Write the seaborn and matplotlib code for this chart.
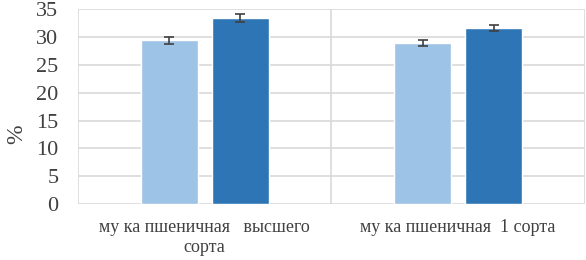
import matplotlib
matplotlib.use('Agg')
import matplotlib.pyplot as plt
import seaborn as sns
import pandas as pd

# data
categories = ['му ка пшеничная   высшего\nсорта', 'му ка пшеничная  1 сорта']
series = ['контроль', 'опыт']
values_light = [29.4, 28.9]
values_dark = [33.4, 31.6]
err_light = [0.6, 0.6]
err_dark = [0.7, 0.6]
yticks = [0, 5, 10, 15, 20, 25, 30, 35]

COLORS = ['#9DC3E6', '#2E75B6']

df = pd.DataFrame({
    'category': categories * 2,
    'series': [series[0]] * 2 + [series[1]] * 2,
    'value': values_light + values_dark,
})
errs = err_light + err_dark

sns.set_style('white')
plt.rcParams['font.family'] = ['Liberation Serif', 'DejaVu Serif']

fig = plt.figure(figsize=(5.86, 2.6), dpi=100)
ax = fig.add_axes([0.133, 0.215, 0.865, 0.75])

sns.barplot(data=df, x='category', y='value', hue='series', palette=COLORS,
            saturation=1, width=0.56, gap=0.2, errorbar=None, legend=False,
            ax=ax, zorder=3)

# error bars on top of the bars
for bar, e in zip(ax.patches, errs):
    cx = bar.get_x() + bar.get_width() / 2
    ax.errorbar(cx, bar.get_height(), yerr=e, fmt='none', ecolor='#404040',
                elinewidth=1.2, capsize=3.5, capthick=1.2, zorder=4)

ax.set_xlim(-0.5, 1.5)
ax.set_ylim(0, 35)
ax.set_yticks(yticks)
ax.yaxis.grid(True, color='#D9D9D9', linewidth=1.2, zorder=0)
for xv in [-0.5, 0.5, 1.5]:
    ax.axvline(xv, color='#D9D9D9', linewidth=1.2, zorder=0)
for s in ax.spines.values():
    s.set_visible(False)
ax.tick_params(axis='y', labelsize=16, length=0, pad=14, colors='#404040')
ax.tick_params(axis='x', labelsize=13, length=0, pad=11, colors='#404040')
for lbl in ax.get_xticklabels():
    lbl.set_linespacing(1.2)
ax.set_xlabel('')
ax.set_ylabel('%', fontsize=17, color='#404040')
ax.yaxis.set_label_coords(-0.10, 0.36)

fig.savefig('out.png', dpi=100)
